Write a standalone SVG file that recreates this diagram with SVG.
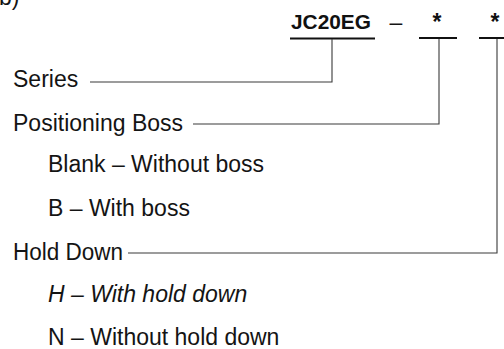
<svg xmlns="http://www.w3.org/2000/svg" width="504" height="349" viewBox="0 0 504 349">
<style>
.t{font-family:"Liberation Sans",Arial,sans-serif;font-size:23px;fill:#141414}
.i{font-style:italic}
.b{font-family:"Liberation Sans",Arial,sans-serif;font-size:21px;font-weight:bold;fill:#111}
.s{font-family:"Liberation Sans",Arial,sans-serif;font-size:23px;font-weight:bold;fill:#111}
.c{fill:none;stroke:#3a3a3a;stroke-width:1.1}
.u{fill:none;stroke:#111;stroke-width:2}
</style>
<rect width="504" height="349" fill="#fff"/>
<text class="t" x="-1" y="5">b)</text>
<g id="code">
<text class="b" x="291" y="29" textLength="80" lengthAdjust="spacingAndGlyphs">JC20EG</text>
<text class="t" x="396" y="30" text-anchor="middle">–</text>
<text class="s" x="437" y="30" text-anchor="middle">*</text>
<text class="s" x="495" y="30" text-anchor="middle">*</text>
<line class="u" x1="290" y1="38.5" x2="375" y2="38.5"/>
<line class="u" x1="419" y1="38" x2="457" y2="38"/>
<line class="u" x1="479" y1="38" x2="504" y2="38"/>
</g>
<g id="series"><text class="t" x="13" y="87">Series</text></g>
<g id="positioning-boss"><text class="t" x="13" y="131">Positioning Boss</text></g>
<g id="blank"><text class="t" x="48" y="172">Blank – Without boss</text></g>
<g id="b-boss"><text class="t" x="48" y="216">B – With boss</text></g>
<g id="hold-down"><text class="t" x="13" y="260" textLength="110" lengthAdjust="spacingAndGlyphs">Hold Down</text></g>
<g id="h-hold"><text class="t i" x="48" y="302">H – With hold down</text></g>
<g id="n-hold"><text class="t" x="48" y="345">N – Without hold down</text></g>
<g id="connectors">
<path class="c" d="M90,82 H332 V39"/>
<path class="c" d="M193,124 H439 V39"/>
<path class="c" d="M128,253 H497 V39"/>
</g>
</svg>
